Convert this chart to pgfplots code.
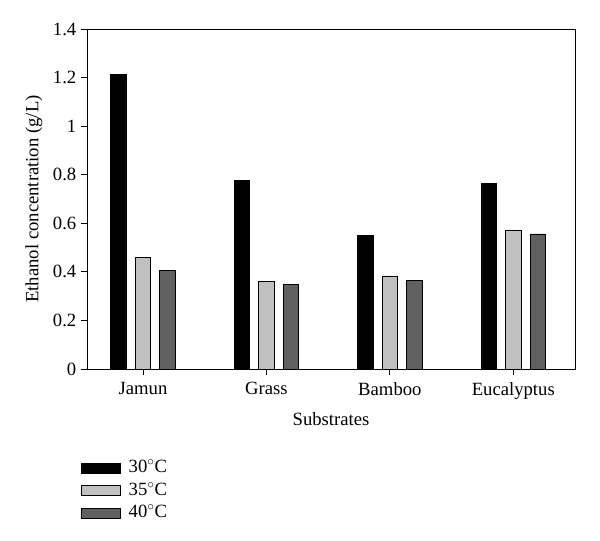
\documentclass[border=0pt]{standalone}
\usepackage{fontspec}
\setmainfont{Liberation Serif}
\usepackage{pgfplots}
\pgfplotsset{compat=1.18}
\definecolor{lightbar}{HTML}{C0C0C0}
\definecolor{darkbar}{HTML}{606060}
\begin{document}
\begin{tikzpicture}
\begin{axis}[
  scale only axis,
  width=366pt, height=255pt,
  xmin=-0.454, xmax=3.5,
  ymin=0, ymax=1.4,
  ytick={0,0.2,0.4,0.6,0.8,1,1.2,1.4},
  yticklabels={0,0.2,0.4,0.6,0.8,1,1.2,1.4},
  xtick={0,1,2,3},
  xticklabels={Jamun,Grass,Bamboo,Eucalyptus},
  tick align=outside,
  xtick pos=bottom, ytick pos=left,
  major tick length=4.5pt,
  tick style={black, line width=0.6pt},
  axis line style={line width=0.6pt},
  ybar=6.8pt, bar width=11.6pt,
  font=\fontsize{14}{16}\selectfont,
  ticklabel style={font=\fontsize{14}{16}\selectfont},
  xticklabel style={yshift=-2pt},
  /pgf/number format/assume math mode=true,
  xlabel={Substrates},
  ylabel={Ethanol concentration (g/L)},
  xlabel style={yshift=-3pt},
  ylabel style={yshift=1pt},
  legend style={at={(-0.012,-0.265)}, anchor=north west, draw=none, fill=none,
    font=\fontsize{14}{16}\selectfont, row sep=3.9pt, inner sep=0pt,
    nodes={text height=10pt, text depth=3pt, inner xsep=6pt, inner ysep=0pt}},
  legend cell align=left,
  legend image code/.code={\draw[#1, line width=0.5pt] (0pt,-3.8pt) rectangle (29pt,3.8pt);},
]
\addplot[fill=black, draw=black, line width=0.5pt] coordinates {(0,1.213) (1,0.777) (2,0.549) (3,0.763)};
\addplot[fill=lightbar, draw=black, line width=0.5pt] coordinates {(0,0.460) (1,0.361) (2,0.383) (3,0.569)};
\addplot[fill=darkbar, draw=black, line width=0.5pt] coordinates {(0,0.405) (1,0.347) (2,0.365) (3,0.556)};
\legend{30$^\circ$C, 35$^\circ$C, 40$^\circ$C}
\end{axis}
\path (current axis.south west) ++(-65.25pt,-129pt) rectangle ++(450pt,405.75pt);
\end{tikzpicture}
\end{document}
